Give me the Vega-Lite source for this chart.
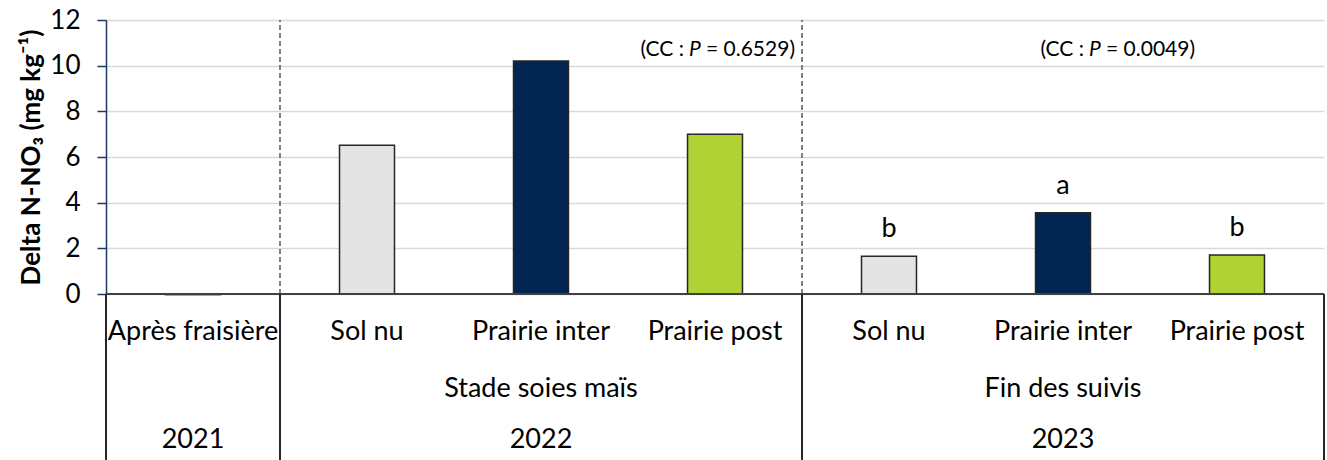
{
  "$schema": "https://vega.github.io/schema/vega-lite/v6.json",
  "width": 1218,
  "height": 274,
  "autosize": "none",
  "padding": {"left": 106, "top": 20, "right": 3, "bottom": 166},
  "background": "white",
  "config": {"view": {"stroke": null}, "font": "Lato, DejaVu Sans", "text": {"font": "Lato, DejaVu Sans"}},
  "datasets": {
    "bars": [
      {"id": "2021|Après fraisière", "cat": "Après fraisière", "trt": "Après fraisière", "v": -0.03, "letter": ""},
      {"id": "2022|Sol nu", "cat": "Sol nu", "trt": "Sol nu", "v": 6.52, "letter": ""},
      {"id": "2022|Prairie inter", "cat": "Prairie inter", "trt": "Prairie inter", "v": 10.2, "letter": ""},
      {"id": "2022|Prairie post", "cat": "Prairie post", "trt": "Prairie post", "v": 7.0, "letter": ""},
      {"id": "2023|Sol nu", "cat": "Sol nu", "trt": "Sol nu", "v": 1.65, "letter": "b"},
      {"id": "2023|Prairie inter", "cat": "Prairie inter", "trt": "Prairie inter", "v": 3.56, "letter": "a"},
      {"id": "2023|Prairie post", "cat": "Prairie post", "trt": "Prairie post", "v": 1.71, "letter": "b"}
    ],
    "groups": [
      {"id": "2022|Prairie inter", "label": "Stade soies maïs", "level": 2},
      {"id": "2023|Prairie inter", "label": "Fin des suivis", "level": 2},
      {"id": "2021|Après fraisière", "label": "2021", "level": 3},
      {"id": "2022|Prairie inter", "label": "2022", "level": 3},
      {"id": "2023|Prairie inter", "label": "2023", "level": 3}
    ],
    "dividers": [
      {"id": "2021|Après fraisière", "side": "start", "inner": false},
      {"id": "2022|Sol nu", "side": "start", "inner": true},
      {"id": "2023|Sol nu", "side": "start", "inner": true},
      {"id": "2023|Prairie post", "side": "end", "inner": false}
    ],
    "ann": [
      {"k": 1, "id": "2022|Prairie post", "pre": "(CC :", "p": "P", "post": "= 0.6529)"},
      {"k": 2, "id": "2023|Prairie inter", "pre": "(CC :", "p": "P", "post": "= 0.0049)"}
    ]
  },
  "layer": [
    {
      "data": {"name": "dividers"},
      "transform": [{"filter": "datum.inner"}],
      "mark": {"type": "rule", "color": "#595959", "strokeWidth": 1.5, "strokeDash": [5, 3]},
      "encoding": {
        "x": {"field": "id", "type": "nominal", "bandPosition": 0, "axis": null,
              "scale": {"domain": ["2021|Après fraisière", "2022|Sol nu", "2022|Prairie inter", "2022|Prairie post", "2023|Sol nu", "2023|Prairie inter", "2023|Prairie post"], "paddingInner": 0, "paddingOuter": 0}},
        "y": {"datum": 0, "type": "quantitative", "scale": {"domain": [0, 12], "nice": false}},
        "y2": {"datum": 12}
      }
    },
    {
      "data": {"name": "bars"},
      "mark": {"type": "bar", "width": {"band": 0.316}, "strokeWidth": 1.5},
      "encoding": {
        "x": {"field": "id", "type": "nominal", "axis": null,
              "scale": {"domain": ["2021|Après fraisière", "2022|Sol nu", "2022|Prairie inter", "2022|Prairie post", "2023|Sol nu", "2023|Prairie inter", "2023|Prairie post"], "paddingInner": 0, "paddingOuter": 0}},
        "y": {"field": "v", "type": "quantitative",
              "scale": {"domain": [0, 12], "nice": false},
              "axis": {"values": [0, 2, 4, 6, 8, 10, 12], "title": "Delta N-NO₃ (mg kg⁻¹)",
                       "titleFontWeight": "bold", "titleFontSize": 26, "titleColor": "#000000",
                       "titleFont": "Lato, DejaVu Sans", "titlePadding": 5,
                       "labelFont": "Lato", "labelFontSize": 26, "labelColor": "#000000", "labelPadding": 17,
                       "domainColor": "#1F3864", "domainWidth": 1.5,
                       "tickColor": "#1F3864", "tickWidth": 1.5, "tickSize": 9,
                       "grid": true, "gridColor": "#D9D9D9", "gridWidth": 1.5}},
        "fill": {"field": "trt", "type": "nominal", "legend": null,
                 "scale": {"domain": ["Après fraisière", "Sol nu", "Prairie inter", "Prairie post"], "range": ["#2F5597", "#E4E4E4", "#022651", "#B0D235"]}},
        "stroke": {"field": "trt", "type": "nominal", "legend": null,
                   "scale": {"domain": ["Après fraisière", "Sol nu", "Prairie inter", "Prairie post"], "range": ["#2F5597", "#262626", "#262626", "#262626"]}}
      }
    },
    {
      "data": {"values": [{}]},
      "mark": {"type": "rule", "color": "#404040", "strokeWidth": 2},
      "encoding": {"y": {"datum": 0, "type": "quantitative"}}
    },
    {
      "data": {"name": "dividers"},
      "transform": [{"filter": "datum.side == 'start'"}],
      "mark": {"type": "rule", "color": "#262626", "strokeWidth": 2},
      "encoding": {
        "x": {"field": "id", "type": "nominal", "bandPosition": 0, "axis": null},
        "y": {"datum": 0, "type": "quantitative"},
        "y2": {"datum": -7.4}
      }
    },
    {
      "data": {"name": "dividers"},
      "transform": [{"filter": "datum.side == 'end'"}],
      "mark": {"type": "rule", "color": "#262626", "strokeWidth": 2},
      "encoding": {
        "x": {"field": "id", "type": "nominal", "bandPosition": 1, "axis": null},
        "y": {"datum": 0, "type": "quantitative"},
        "y2": {"datum": -7.4}
      }
    },
    {
      "data": {"name": "bars"},
      "transform": [{"filter": "datum.letter != ''"}],
      "mark": {"type": "text", "fontSize": 27, "color": "#000000", "baseline": "alphabetic", "dy": -19},
      "encoding": {
        "x": {"field": "id", "type": "nominal", "axis": null},
        "y": {"field": "v", "type": "quantitative"},
        "text": {"field": "letter"}
      }
    },
    {
      "data": {"name": "bars"},
      "mark": {"type": "text", "fontSize": 27, "color": "#000000", "baseline": "alphabetic"},
      "encoding": {
        "x": {"field": "id", "type": "nominal", "axis": null},
        "y": {"datum": -2.02, "type": "quantitative"},
        "text": {"field": "cat"}
      }
    },
    {
      "data": {"name": "groups"},
      "transform": [{"filter": "datum.level == 2"}],
      "mark": {"type": "text", "fontSize": 27, "color": "#000000", "baseline": "alphabetic"},
      "encoding": {
        "x": {"field": "id", "type": "nominal", "axis": null},
        "y": {"datum": -4.5, "type": "quantitative"},
        "text": {"field": "label"}
      }
    },
    {
      "data": {"name": "groups"},
      "transform": [{"filter": "datum.level == 3"}],
      "mark": {"type": "text", "fontSize": 27, "color": "#000000", "baseline": "alphabetic"},
      "encoding": {
        "x": {"field": "id", "type": "nominal", "axis": null},
        "y": {"datum": -6.75, "type": "quantitative"},
        "text": {"field": "label"}
      }
    },
    {
      "data": {"name": "ann"},
      "transform": [{"filter": "datum.k == 1"}],
      "encoding": {
        "x": {"field": "id", "type": "nominal", "bandPosition": 0.385, "axis": null},
        "y": {"datum": 10.69, "type": "quantitative"}
      },
      "layer": [
        {"mark": {"type": "text", "fontSize": 21, "align": "right", "baseline": "middle", "dx": -11, "color": "#000000"}, "encoding": {"text": {"field": "pre"}}},
        {"mark": {"type": "text", "fontSize": 21, "align": "center", "baseline": "middle", "fontStyle": "italic", "color": "#000000"}, "encoding": {"text": {"field": "p"}}},
        {"mark": {"type": "text", "fontSize": 21, "align": "left", "baseline": "middle", "dx": 11, "color": "#000000"}, "encoding": {"text": {"field": "post"}}}
      ]
    },
    {
      "data": {"name": "ann"},
      "transform": [{"filter": "datum.k == 2"}],
      "encoding": {
        "x": {"field": "id", "type": "nominal", "bandPosition": 0.684, "axis": null},
        "y": {"datum": 10.69, "type": "quantitative"}
      },
      "layer": [
        {"mark": {"type": "text", "fontSize": 21, "align": "right", "baseline": "middle", "dx": -11, "color": "#000000"}, "encoding": {"text": {"field": "pre"}}},
        {"mark": {"type": "text", "fontSize": 21, "align": "center", "baseline": "middle", "fontStyle": "italic", "color": "#000000"}, "encoding": {"text": {"field": "p"}}},
        {"mark": {"type": "text", "fontSize": 21, "align": "left", "baseline": "middle", "dx": 11, "color": "#000000"}, "encoding": {"text": {"field": "post"}}}
      ]
    }
  ]
}
